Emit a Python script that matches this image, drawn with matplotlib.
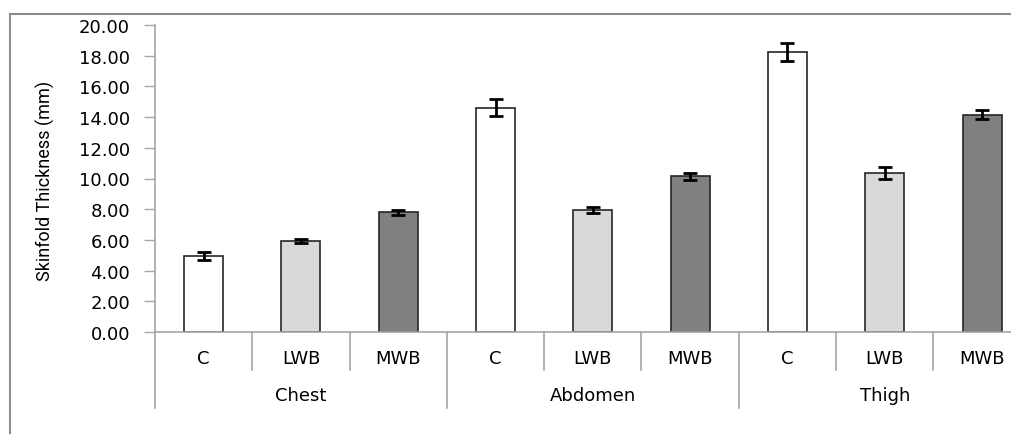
import matplotlib
matplotlib.use("Agg")
import matplotlib.pyplot as plt
import matplotlib.transforms as mtransforms

# Data
groups = ["Chest", "Abdomen", "Thigh"]
treatments = ["C", "LWB", "MWB"]
means = [4.95, 5.95, 7.80, 14.60, 7.95, 10.15, 18.25, 10.35, 14.15]
errors = [0.25, 0.12, 0.17, 0.55, 0.20, 0.22, 0.60, 0.40, 0.30]
bar_colors = ["#FFFFFF", "#D9D9D9", "#808080"]
yticks = [0, 2, 4, 6, 8, 10, 12, 14, 16, 18, 20]

W, H = 1011, 435
fig = plt.figure(figsize=(W / 100, H / 100), dpi=100)
fig.patch.set_facecolor("white")

# outer frame (top and left visible)
fig.add_artist(plt.Line2D([10 / W, 1.0], [1 - 15 / H, 1 - 15 / H], color="#8C8C8C", lw=1.5, transform=fig.transFigure))
fig.add_artist(plt.Line2D([10 / W, 10 / W], [0, 1 - 15 / H], color="#8C8C8C", lw=1.5, transform=fig.transFigure))

left = 155 / W
width = 9 * 97.3 / W
bottom = (H - 333) / H
height = (333 - 26) / H
ax = fig.add_axes([left, bottom, width, height])

n = len(means)
x = list(range(n))
colors = [bar_colors[i % 3] for i in range(n)]
ax.bar(x, means, width=0.40, color=colors, edgecolor="#262626", linewidth=1.2, zorder=2)
ax.errorbar(x, means, yerr=errors, fmt="none", ecolor="black", elinewidth=2.0,
            capsize=4.8, capthick=2.0, zorder=3)

ax.set_xlim(-0.5, n - 0.5)
ax.set_ylim(0, 20)
ax.set_yticks(yticks)
ax.set_yticklabels([f"{v:.2f}" for v in yticks])
ax.tick_params(axis="y", direction="out", length=8, width=1, color="#A6A6A6",
               labelsize=13, pad=10, labelcolor="black")
ax.set_xticks([])

for s in ["top", "right"]:
    ax.spines[s].set_visible(False)
ax.spines["left"].set_color("#A6A6A6")
ax.spines["bottom"].set_color("#A6A6A6")
ax.spines["left"].set_linewidth(1.2)
ax.spines["bottom"].set_linewidth(1.2)

trans = mtransforms.blended_transform_factory(ax.transData, ax.transAxes)
short = 38 / 307
long_ = 76 / 307
# y-axis extension down
ax.plot([-0.5, -0.5], [0, -long_], color="#A6A6A6", lw=1.2, transform=trans, clip_on=False)
for k in range(1, n):
    b = k - 0.5
    L = long_ if k % 3 == 0 else short
    ax.plot([b, b], [0, -L], color="#A6A6A6", lw=1.2, transform=trans, clip_on=False)

for i in range(n):
    ax.text(i, -26 / 307, treatments[i % 3], transform=trans, ha="center", va="center",
            fontsize=13, color="black", clip_on=False)
for g, name in enumerate(groups):
    ax.text(3 * g + 1, -63 / 307, name, transform=trans, ha="center", va="center",
            fontsize=13, color="black", clip_on=False)

fig.text(45 / W, 1 - 181 / H, "Skinfold Thickness (mm)", rotation=90, ha="center", va="center",
         fontsize=13, family=["Roboto", "DejaVu Sans"], color="black")

fig.savefig("out.png", dpi=100, facecolor="white")
